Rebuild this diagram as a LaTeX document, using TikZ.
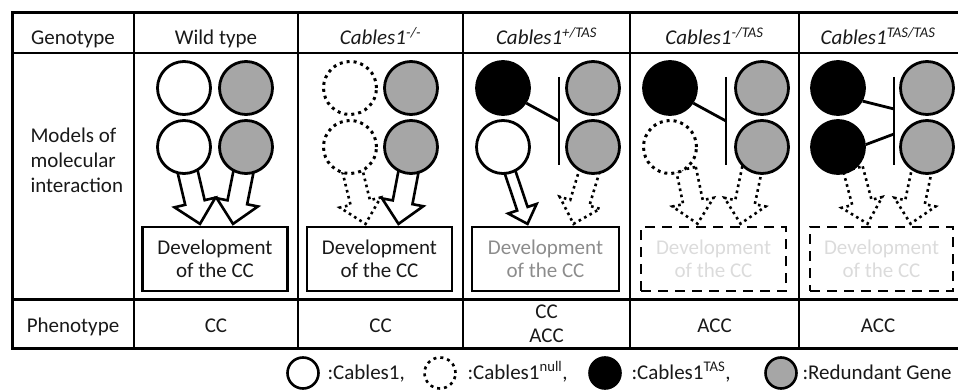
\documentclass[tikz,border=0pt]{standalone}
\usepackage{fontspec}
\setmainfont{Carlito}
\usetikzlibrary{calc}
\pgfdeclarelayer{back}
\pgfsetlayers{back,main}
\definecolor{genegray}{gray}{0.65}
\definecolor{inkgray}{gray}{0.1}
\definecolor{midgray}{gray}{0.55}
\definecolor{palegray}{gray}{0.86}

% block arrow: [style]{from}{to}{half shaft}{half head}{head length}
\newcommand\blockarrow[6][]{%
  \coordinate (hb) at ($(#3)!#6!(#2)$);
  \draw [#1] ($(#2)!#4!90:(#3)$) -- ($(hb)!#4!90:(#3)$) -- ($(hb)!#5!90:(#3)$) -- (#3)
    -- ($(hb)!#5!-90:(#3)$) -- ($(hb)!#4!-90:(#3)$) -- ($(#2)!#4!-90:(#3)$) -- cycle;
}

\tikzset{
  every node/.style={font=\fontsize{21}{24}\selectfont, text=inkgray},
  gene/.style={circle, draw, line width=2.8pt, minimum size=53pt, inner sep=0pt},
  wt/.style={gene, fill=white},
  nullgene/.style={gene, fill=white, line width=3pt, dash pattern=on 3pt off 4pt},
  tas/.style={gene, fill=black},
  redund/.style={gene, fill=genegray},
  key/.style={minimum size=31pt, line width=2.6pt},
  devbox/.style={draw, line width=2.2pt, minimum width=145pt, minimum height=64pt,
    align=center, font=\fontsize{21}{23}\selectfont},
  dashbox/.style={devbox, dash pattern=on 10pt off 7pt, line width=2.6pt, text=palegray},
  block/.style={line width=2.6pt, line join=miter},
  dotblock/.style={line width=2.6pt, dash pattern=on 2.6pt off 3.6pt},
  inhibit/.style={line width=2.8pt},
  grid/.style={line width=2pt},
  frame/.style={line width=3pt},
}

\begin{document}
\begin{tikzpicture}[x=1pt,y=-1pt]
\useasboundingbox (0,0) rectangle (958,390);

% table
\draw [frame] (12,13) rectangle (959,348);
\draw [grid] (12,53) -- (959,53);
\draw [frame] (12,299) -- (959,299);
\foreach \x in {134,298,463,630,799}
  \draw [grid] (\x,13) -- (\x,348);

% header row
\node [anchor=base] (hgen) at (73,45) {Genotype};
\node [anchor=base] (hwt) at (216,45) {Wild type};
\node [anchor=base] (hko) at (380.5,45) {\textit{Cables1}\textsuperscript{\textit{-/-}}};
\node [anchor=base] (hhet) at (546.5,45) {\textit{Cables1}\textsuperscript{\textit{+/TAS}}};
\node [anchor=base] (hkotas) at (714.5,45) {\textit{Cables1}\textsuperscript{\textit{-/TAS}}};
\node [anchor=base] (htas) at (878,45) {\textit{Cables1}\textsuperscript{\textit{TAS/TAS}}};

\node [anchor=west, align=left, font=\fontsize{21}{25}\selectfont] (hmod) at (27,160)
  {Models of\\molecular\\interaction};

% genes
\node [wt] (w1a) at (184,88) {};
\node [redund] (g1a) at (246,88) {};
\node [wt] (w1b) at (184,147) {};
\node [redund] (g1b) at (246,147) {};

\node [nullgene] (n2a) at (350,88) {};
\node [redund] (g2a) at (411,88) {};
\node [nullgene] (n2b) at (350,147) {};
\node [redund] (g2b) at (411,147) {};

\node [tas] (t3a) at (503,88) {};
\node [redund] (g3a) at (593,88) {};
\node [wt] (w3b) at (503,147) {};
\node [redund] (g3b) at (593,147) {};

\node [tas] (t4a) at (670,88) {};
\node [redund] (g4a) at (762,88) {};
\node [nullgene] (n4b) at (670,147) {};
\node [redund] (g4b) at (762,147) {};

\node [tas] (t5a) at (838,88) {};
\node [redund] (g5a) at (927,88) {};
\node [tas] (t5b) at (838,147) {};
\node [redund] (g5b) at (927,147) {};

% inhibition
\coordinate (bar3) at (559,121);
\coordinate (bar4) at (726,121);
\coordinate (bar5) at (894,121);
\draw [inhibit] ($(bar3)+(0,-44)$) -- ($(bar3)+(0,44)$);
\draw [inhibit] ($(bar4)+(0,-44)$) -- ($(bar4)+(0,44)$);
\draw [inhibit] ($(bar5)+(0,-44)$) -- ($(bar5)+(0,44)$);
\draw [inhibit] (t3a.-33) -- (bar3);
\draw [inhibit] (t4a.-33) -- (bar4);
\draw [inhibit] (t5a.-28) -- ($(bar5)+(0,-12)$);
\draw [inhibit] (t5b.5) -- ($(bar5)+(0,13)$);

% development boxes
\node [devbox] (dev1) at (215,259) {Development\\of the CC};
\node [devbox] (dev2) at (379.5,259) {Development\\of the CC};
\node [devbox, text=midgray, minimum width=147pt] (dev3) at (545.5,259) {Development\\of the CC};
\node [dashbox] (dev4) at (713.5,259) {Development\\of the CC};
\node [dashbox, minimum width=143pt] (dev5) at (881.5,259) {Development\\of the CC};

% arrows
\coordinate (s1l) at ($(w1b.south)+(3,-6)$);
\coordinate (e1l) at ($(dev1.north)+(-15,-2)$);
\coordinate (s1r) at ($(g1b.south)+(-2,-6)$);
\coordinate (e1r) at ($(dev1.north)+(18,-2)$);
\coordinate (s2l) at ($(n2b.south)+(2,-6)$);
\coordinate (e2l) at ($(dev2.north)+(-14,-2)$);
\coordinate (s2r) at ($(g2b.south)+(-2,-6)$);
\coordinate (e2r) at ($(dev2.north)+(19,-2)$);
\coordinate (s3l) at ($(w3b.south)+(6,-6)$);
\coordinate (e3l) at ($(dev3.north)+(-18,-2)$);
\coordinate (s3r) at ($(g3b.south)+(-3,-6)$);
\coordinate (e3r) at ($(dev3.north)+(28,-2)$);
\coordinate (s4l) at ($(n4b.south)+(16,-6)$);
\coordinate (e4l) at ($(dev4.north)+(-16,-2)$);
\coordinate (s4r) at ($(g4b.south)+(-10,-6)$);
\coordinate (e4r) at ($(dev4.north)+(27,-2)$);
\coordinate (s5l) at ($(t5b.south)+(15,-6)$);
\coordinate (e5l) at ($(dev5.north)+(-14,-2)$);
\coordinate (s5r) at ($(g5b.south)+(-5,-6)$);
\coordinate (e5r) at ($(dev5.north)+(29,-2)$);

\begin{pgfonlayer}{back}
\blockarrow[block]{s1l}{e1l}{10pt}{21pt}{22pt}
\blockarrow[block]{s1r}{e1r}{10pt}{21pt}{22pt}
\blockarrow[dotblock]{s2l}{e2l}{10pt}{21pt}{22pt}
\blockarrow[block]{s2r}{e2r}{10pt}{21pt}{22pt}
\blockarrow[block]{s3l}{e3l}{5.5pt}{15pt}{16pt}
\blockarrow[dotblock]{s3r}{e3r}{10pt}{21pt}{22pt}
\blockarrow[dotblock]{s4l}{e4l}{10pt}{21pt}{22pt}
\blockarrow[dotblock]{s4r}{e4r}{10pt}{21pt}{22pt}
\blockarrow[dotblock]{s5l}{e5l}{10pt}{21pt}{22pt}
\blockarrow[dotblock]{s5r}{e5r}{10pt}{21pt}{22pt}
\end{pgfonlayer}

% phenotype row
\node [anchor=base] (pgen) at (73,332) {Phenotype};
\node [anchor=base] (p1) at (216,332) {CC};
\node [anchor=base] (p2) at (380.5,332) {CC};
\node [align=center] (p3) at (546.5,324) {CC\\ACC};
\node [anchor=base] (p4) at (714.5,332) {ACC};
\node [anchor=base] (p5) at (878,332) {ACC};

% legend
\node [wt, key] (kw) at (303,373) {};
\node [anchor=base west] (lw) at (324,379) {:Cables1,};
\node [nullgene, key] (kn) at (440,373) {};
\node [anchor=base west] (ln) at (464,379) {:Cables1\textsuperscript{null},};
\node [tas, key] (kt) at (605,373) {};
\node [anchor=base west] (lt) at (628,379) {:Cables1\textsuperscript{TAS},};
\node [redund, key] (kr) at (781,373) {};
\node [anchor=base west] (lr) at (799,379) {:Redundant Gene};
\end{tikzpicture}
\end{document}
